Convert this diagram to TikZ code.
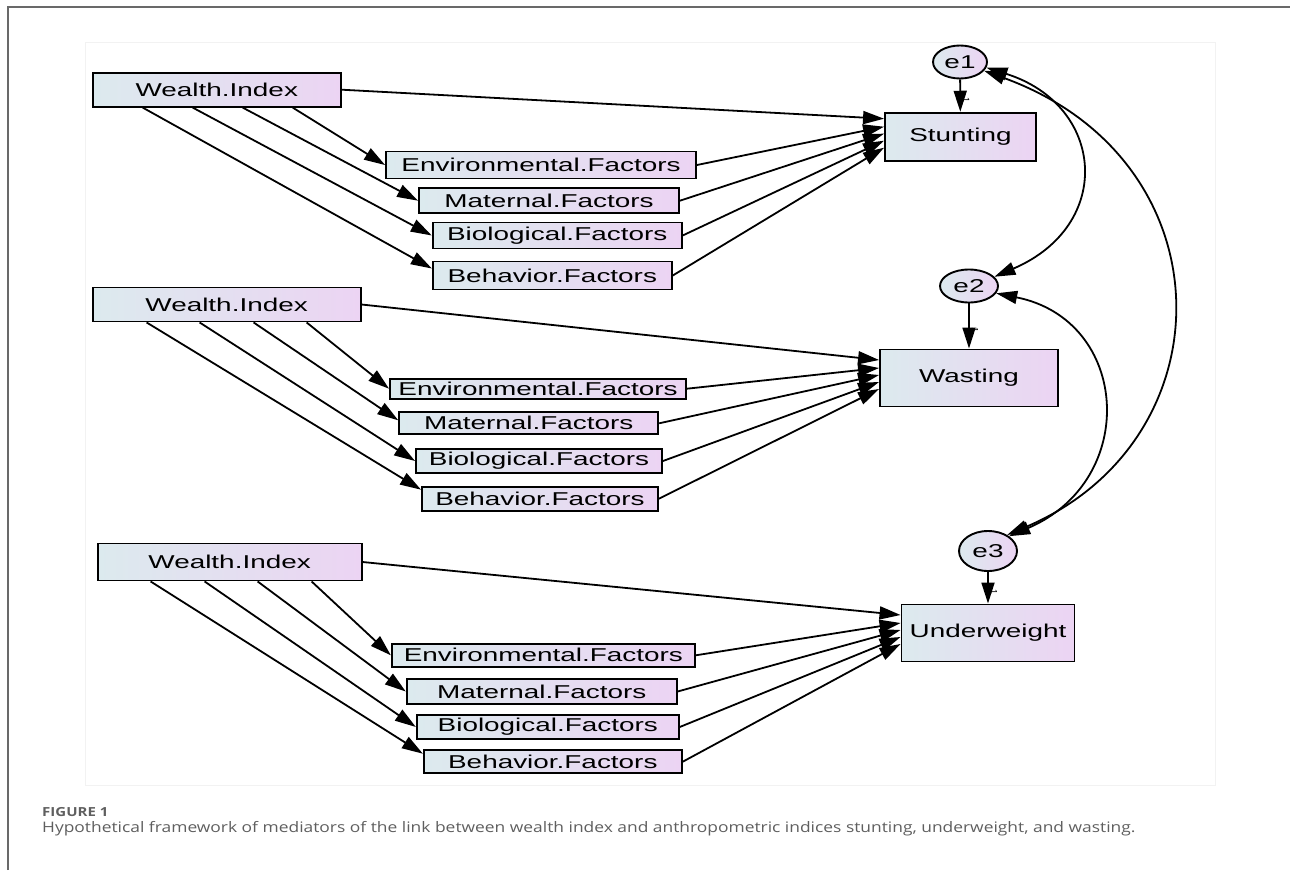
\documentclass[tikz,border=0pt]{standalone}
\usepackage{fontspec}
\setmainfont{Liberation Sans}
\newfontfamily\amosfont[FakeStretch=1.5]{Liberation Sans}
\newfontfamily\capfont[FakeStretch=1.2]{Open Sans}
\usetikzlibrary{positioning,arrows.meta,shapes.geometric}
\definecolor{boxl}{RGB}{220,234,238}
\definecolor{boxr}{RGB}{236,212,243}
\definecolor{framegray}{RGB}{105,105,105}
\definecolor{capgray}{RGB}{95,95,95}
\tikzset{
  ob/.style={rectangle, draw=black, line width=1.9pt, left color=boxl, right color=boxr, inner sep=0pt, text centered, font=\amosfont\fontsize{18.6}{20}\selectfont},
  er/.style={ellipse, draw=black, line width=1.9pt, left color=boxl, right color=boxr, inner sep=0pt, minimum width=54pt, minimum height=33pt, font=\amosfont\fontsize{18.6}{20}\selectfont},
  pa/.style={->, line width=1.8pt},
  cv/.style={<->, line width=1.8pt},
  one/.style={right, xshift=6pt, rotate=-90, font=\fontsize{9}{9}\selectfont, inner sep=1pt}
}

\begin{document}
\begin{tikzpicture}[x=1pt, y=-1pt, >={Triangle[length=21pt,width=13pt]}]
	\useasboundingbox (0,0) rectangle (1290,870);
	\draw[framegray, line width=2pt] (8,870) -- (8,7) -- (1290,7);
	\draw[black!5] (85,42) rectangle (1215,785);
	% stunting
	\node[ob, minimum width=248pt, minimum height=34pt] (w1) at (216.8,89.7) {Wealth.Index};
	\node[ob, minimum width=310pt, minimum height=27pt] (env1) at (541,165) {Environmental.Factors};
	\node[ob, minimum width=260pt, minimum height=25pt] (mat1) at (549,200.7) {Maternal.Factors};
	\node[ob, minimum width=249pt, minimum height=26pt] (bio1) at (557.2,235.5) {Biological.Factors};
	\node[ob, minimum width=239pt, minimum height=28pt] (beh1) at (552.3,275.5) {Behavior.Factors};
	\node[ob, minimum width=151pt, minimum height=48pt] (stu) at (960.5,136.7) {Stunting};
	\node[er] (e1) at (960,62) {e1};
	% wasting
	\node[ob, minimum width=268pt, minimum height=34pt] (w2) at (226.6,304.5) {Wealth.Index};
	\node[ob, minimum width=296pt, minimum height=20pt] (env2) at (538,388.7) {Environmental.Factors};
	\node[ob, minimum width=259pt, minimum height=22pt] (mat2) at (528.7,423.3) {Maternal.Factors};
	\node[ob, minimum width=246pt, minimum height=24pt] (bio2) at (539,461) {Biological.Factors};
	\node[ob, minimum width=236pt, minimum height=24pt] (beh2) at (540,498.7) {Behavior.Factors};
	\node[ob, minimum width=178pt, minimum height=57pt] (was) at (969,378) {Wasting};
	\node[er, minimum width=58pt] (e2) at (969,286) {e2};
	% underweight
	\node[ob, minimum width=264pt, minimum height=37pt] (w3) at (229.6,562) {Wealth.Index};
	\node[ob, minimum width=303pt, minimum height=23pt] (env3) at (543.3,655.3) {Environmental.Factors};
	\node[ob, minimum width=270pt, minimum height=25pt] (mat3) at (541.7,691.5) {Maternal.Factors};
	\node[ob, minimum width=262pt, minimum height=24pt] (bio3) at (547.8,727) {Biological.Factors};
	\node[ob, minimum width=258pt, minimum height=23pt] (beh3) at (552.8,761.7) {Behavior.Factors};
	\node[ob, minimum width=173pt, minimum height=57pt] (und) at (988,633) {Underweight};
	\node[er, minimum width=58pt, minimum height=40pt] (e3) at (988,551) {e3};
	%
	\draw[pa] (w1.east) -- ([yshift=18pt]stu.west);
	\draw[pa] ([xshift=76pt]w1.south) -- (env1.west);
	\draw[pa] ([xshift=26pt]w1.south) -- (mat1.west);
	\draw[pa] ([xshift=-24pt]w1.south) -- (bio1.west);
	\draw[pa] ([xshift=-74pt]w1.south) -- ([yshift=7pt]beh1.west);
	\draw[pa] (env1.east) -- ([yshift=10pt]stu.west);
	\draw[pa] (mat1.east) -- ([yshift=3pt]stu.west);
	\draw[pa] (bio1.east) -- ([yshift=-4pt]stu.west);
	\draw[pa] (beh1.east) -- ([yshift=-11pt]stu.west);
	\draw[pa] (e1) -- node[one] {1} (stu);
	%
	\draw[pa] (w2.east) -- ([yshift=18pt]was.west);
	\draw[pa] ([xshift=80pt]w2.south) -- (env2.west);
	\draw[pa] ([xshift=27pt]w2.south) -- ([yshift=3pt]mat2.west);
	\draw[pa] ([xshift=-27pt]w2.south) -- (bio2.west);
	\draw[pa] ([xshift=-80pt]w2.south) -- ([yshift=9pt]beh2.west);
	\draw[pa] (env2.east) -- ([yshift=10pt]was.west);
	\draw[pa] (mat2.east) -- ([yshift=3pt]was.west);
	\draw[pa] (bio2.east) -- ([yshift=-4pt]was.west);
	\draw[pa] (beh2.east) -- ([yshift=-11pt]was.west);
	\draw[pa] (e2) -- node[one] {1} (was);
	%
	\draw[pa] (w3.east) -- ([yshift=18pt]und.west);
	\draw[pa] ([xshift=82pt]w3.south) -- (env3.west);
	\draw[pa] ([xshift=28pt]w3.south) -- (mat3.west);
	\draw[pa] ([xshift=-25pt]w3.south) -- (bio3.west);
	\draw[pa] ([xshift=-79pt]w3.south) -- ([yshift=8pt]beh3.west);
	\draw[pa] (env3.east) -- ([yshift=10pt]und.west);
	\draw[pa] (mat3.east) -- ([yshift=3pt]und.west);
	\draw[pa] (bio3.east) -- ([yshift=-4pt]und.west);
	\draw[pa] (beh3.east) -- ([yshift=-11pt]und.west);
	\draw[pa] (e3) -- node[one] {1} (und);
	% covariances
	\draw[cv] (e1.-12) .. controls (1105,105) and (1115,225) .. (e2.20);
	\draw[cv] (e2.-15) .. controls (1130,320) and (1140,480) .. (e3.35);
	\draw[cv] (e1.-20) .. controls (1230,160) and (1230,440) .. (e3.40);
	% caption
	\node[anchor=west, inner sep=0pt, text=capgray, font=\capfont\bfseries\fontsize{12.5}{14}\selectfont] (fig) at (42,812.5) {FIGURE 1};
	\node[anchor=west, inner sep=0pt, text=capgray, font=\capfont\fontsize{14.5}{17}\selectfont] (cap) at (42,829) {Hypothetical framework of mediators of the link between wealth index and anthropometric indices stunting, underweight, and wasting.};
\end{tikzpicture}
\end{document}
